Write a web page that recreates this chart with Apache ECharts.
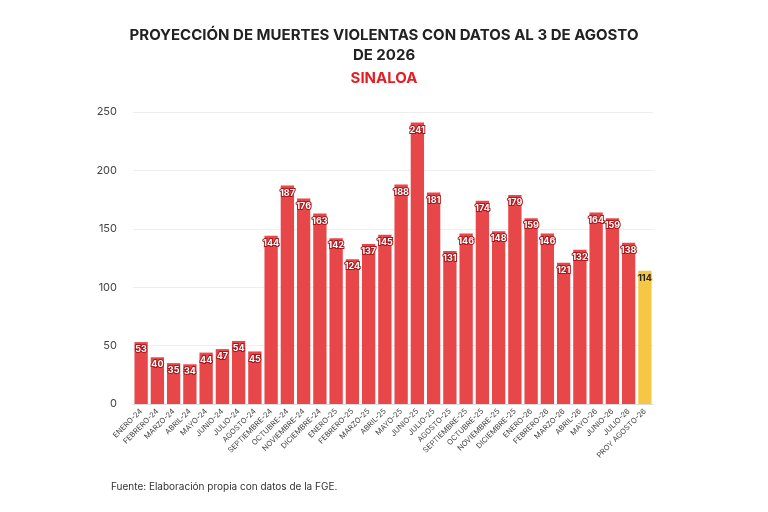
<!DOCTYPE html>
<html><head><meta charset="utf-8">
<script src="https://cdn.jsdelivr.net/npm/echarts@6/dist/echarts.min.js"></script>
<style>body{margin:0;background:#fff}#chart{width:768px;height:512px}</style>
</head><body><div id="chart"></div>
<script>
const categories = ["ENERO-24","FEBRERO-24","MARZO-24","ABRIL-24","MAYO-24","JUNIO-24","JULIO-24","AGOSTO-24","SEPTIEMBRE-24","OCTUBRE-24","NOVIEMBRE-24","DICIEMBRE-24",
  "ENERO-25","FEBRERO-25","MARZO-25","ABRIL-25","MAYO-25","JUNIO-25","JULIO-25","AGOSTO-25","SEPTIEMBRE-25","OCTUBRE-25","NOVIEMBRE-25","DICIEMBRE-25",
  "ENERO-26","FEBRERO-26","MARZO-26","ABRIL-26","MAYO-26","JUNIO-26","JULIO-26","PROY AGOSTO-26"];
const values = [53,40,35,34,44,47,54,45,144,187,176,163,142,124,137,145,188,241,181,131,146,174,148,179,159,146,121,132,164,159,138,114];
const projectedIndex = 31;

const chart = echarts.init(document.getElementById("chart"));
chart.setOption({
  textStyle: { fontFamily: "Inter" },
  title: [
    { text: "PROYECCIÓN DE MUERTES VIOLENTAS CON DATOS AL 3 DE AGOSTO\nDE 2026", left: "center", top: 20,
      textStyle: { fontSize: 15, fontWeight: "bold", color: "#222", lineHeight: 20, align: "center" } },
    { text: "SINALOA", left: "center", top: 66, textStyle: { fontSize: 15, fontWeight: "bold", color: "#e31e24" } },
    { text: "Fuente: Elaboración propia con datos de la FGE.", left: 106, top: 477,
      textStyle: { fontSize: 10, fontWeight: "normal", color: "#333" } }
  ],
  grid: { left: 133, right: 115, top: 112, bottom: 108 },
  xAxis: {
    type: "category", data: categories,
    axisTick: { show: false }, axisLine: { lineStyle: { color: "#ddd" } },
    axisLabel: { rotate: 45, interval: 0, fontSize: 7.5, color: "#444", margin: 6 }
  },
  yAxis: {
    type: "value", min: 0, max: 250, interval: 50,
    axisLabel: { fontSize: 11, color: "#444", margin: 16 },
    splitLine: { lineStyle: { color: "#eee" } }
  },
  series: [{
    type: "bar", barCategoryGap: "18%",
    data: values.map((v, i) => ({ value: v, itemStyle: { color: i === projectedIndex ? "#f6c744" : "#e8474a" },
      label: i === projectedIndex ? { color: "#222", textBorderColor: "#f6c744" } : {} })),
    label: { show: true, position: "insideTop", distance: 3, fontSize: 9, fontWeight: "bold",
      color: "#fff", textBorderColor: "#a8181c", textBorderWidth: 2 }
  }]
});
</script></body></html>
